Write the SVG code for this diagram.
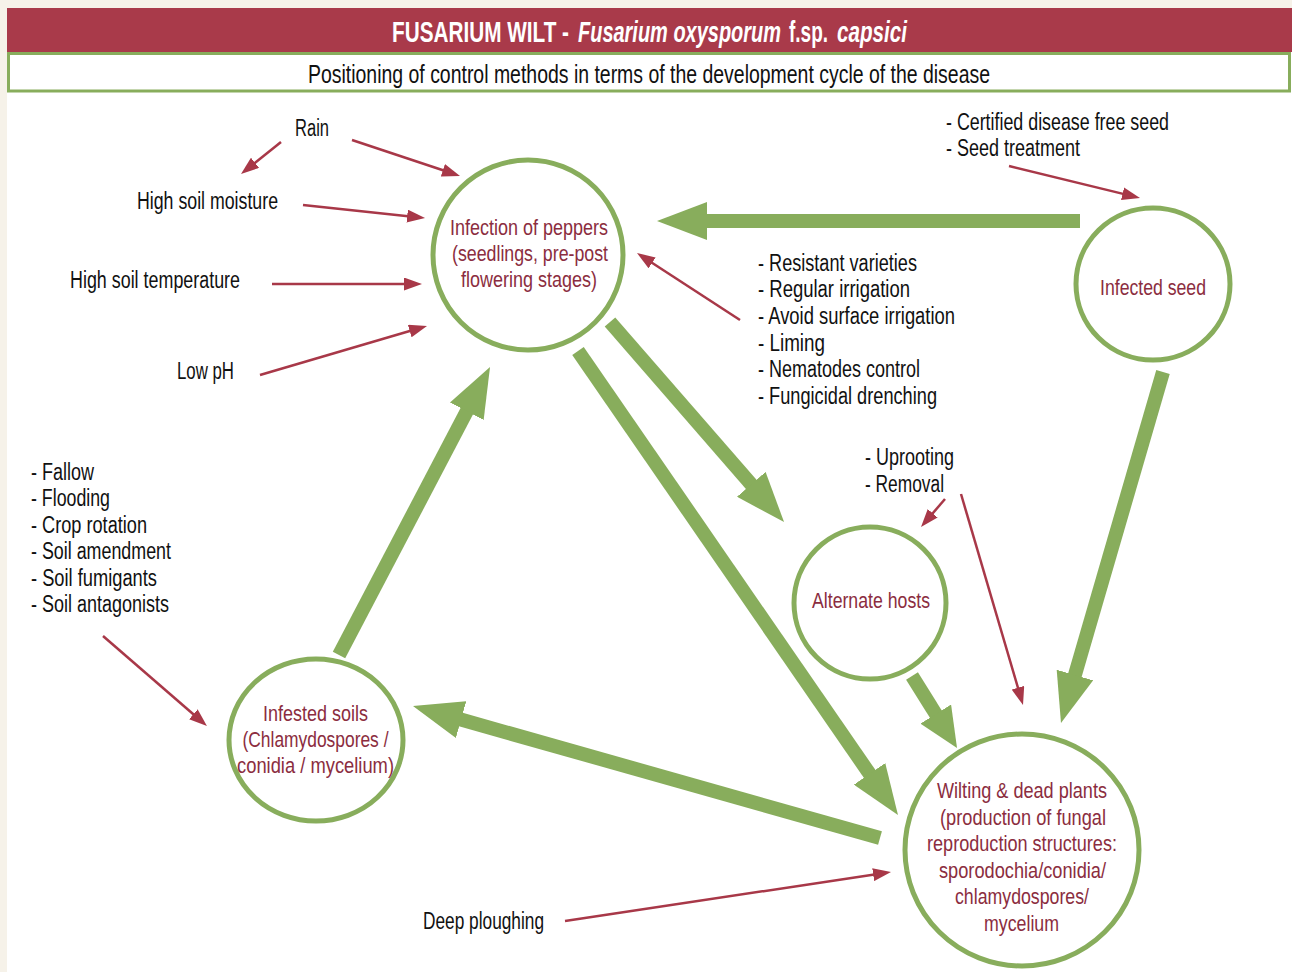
<svg xmlns="http://www.w3.org/2000/svg" width="1292" height="972" viewBox="0 0 1292 972">
<style>
text{font-family:"Liberation Sans Narrow","Liberation Sans",Arial,sans-serif;}
.lbl{font-size:23px;fill:#111;}
.node{font-size:22px;fill:#8b2d40;text-anchor:middle;}
.ttl{font-size:20px;font-weight:bold;fill:#fff;}
.it{font-style:italic;}
.ring{fill:#fff;stroke:#88ad5c;stroke-width:5;}
.g{stroke:#88ad5c;stroke-width:14;fill:none;marker-end:url(#gh);}
.gs{stroke:#88ad5c;stroke-width:14;fill:none;marker-end:url(#ghs);}
.r{stroke:#a83848;stroke-width:2.5;fill:none;marker-end:url(#rh);}
</style>
<defs>
<marker id="gh" markerUnits="userSpaceOnUse" viewBox="0 0 50 38" markerWidth="50" markerHeight="38" refX="3" refY="19" orient="auto"><path d="M0,0 L50,19 L0,38 z" fill="#88ad5c"/></marker>
<marker id="ghs" markerUnits="userSpaceOnUse" viewBox="0 0 40 36" markerWidth="40" markerHeight="36" refX="3" refY="18" orient="auto"><path d="M0,0 L40,18 L0,36 z" fill="#88ad5c"/></marker>
<marker id="rh" markerUnits="userSpaceOnUse" viewBox="0 0 18 13" markerWidth="18" markerHeight="13" refX="8" refY="6.5" orient="auto"><path d="M0,0 L18,6.5 L0,13 z" fill="#a83848"/></marker>
</defs>
<rect x="0" y="0" width="1292" height="972" fill="#f6f2e9"/>
<rect x="7" y="8" width="1285" height="964" fill="#fff"/>
<g id="title">
<rect x="7" y="8" width="1285" height="44" fill="#a93a4a"/>
<g transform="translate(0,42) scale(1,1.45)">
<text class="ttl" x="392" y="0" textLength="177" lengthAdjust="spacingAndGlyphs">FUSARIUM WILT -</text>
<text class="ttl it" x="578" y="0" textLength="203" lengthAdjust="spacingAndGlyphs">Fusarium oxysporum</text>
<text class="ttl" x="789" y="0" textLength="39" lengthAdjust="spacingAndGlyphs">f.sp.</text>
<text class="ttl it" x="837" y="0" textLength="70" lengthAdjust="spacingAndGlyphs">capsici</text>
</g>
</g>
<g id="subtitle">
<rect x="8.5" y="53.5" width="1281" height="37.5" fill="#fff" stroke="#88ad5c" stroke-width="3"/>
<text x="649" y="83" text-anchor="middle" font-size="26" fill="#111" textLength="682" lengthAdjust="spacingAndGlyphs">Positioning of control methods in terms of the development cycle of the disease</text>
</g>
<g id="connectors">
<line class="g" x1="1080" y1="221" x2="704" y2="221"/>
<line class="g" x1="1163" y1="372" x2="1074.1" y2="677.9"/>
<line class="g" x1="610" y1="322" x2="753.2" y2="486.6"/>
<line class="g" x1="578" y1="351" x2="871.3" y2="776.3"/>
<line class="gs" x1="912" y1="676" x2="937.4" y2="716.6"/>
<line class="g" x1="880" y1="838" x2="458.2" y2="718.8"/>
<line class="g" x1="339" y1="655" x2="468.2" y2="408.6"/>
<line class="r" x1="281" y1="142" x2="248.8" y2="167.8"/>
<line class="r" x1="352" y1="140" x2="450.5" y2="172.8"/>
<line class="r" x1="303" y1="205" x2="415.1" y2="216.9"/>
<line class="r" x1="272" y1="284" x2="412" y2="284"/>
<line class="r" x1="260" y1="375" x2="417.4" y2="328.8"/>
<line class="r" x1="740" y1="320" x2="645.4" y2="258.5"/>
<line class="r" x1="1009" y1="166" x2="1130.3" y2="195.6"/>
<line class="r" x1="945" y1="499" x2="927.5" y2="519.4"/>
<line class="r" x1="961" y1="494" x2="1020.2" y2="695.4"/>
<line class="r" x1="103" y1="636" x2="199.4" y2="719.5"/>
<line class="r" x1="565" y1="921" x2="881.1" y2="873.5"/>
</g>
<g id="infection">
<circle class="ring" cx="528" cy="255" r="95"/>
<text class="node" x="529" y="235" textLength="158" lengthAdjust="spacingAndGlyphs">Infection of peppers</text>
<text class="node" x="530" y="261" textLength="156" lengthAdjust="spacingAndGlyphs">(seedlings, pre-post</text>
<text class="node" x="529" y="287" textLength="136" lengthAdjust="spacingAndGlyphs">flowering stages)</text>
</g>
<g id="seed">
<ellipse class="ring" cx="1153" cy="284" rx="77" ry="76"/>
<text class="node" x="1153" y="295" textLength="106" lengthAdjust="spacingAndGlyphs">Infected seed</text>
</g>
<g id="hosts">
<circle class="ring" cx="870" cy="603" r="76"/>
<text class="node" x="871" y="608" textLength="118" lengthAdjust="spacingAndGlyphs">Alternate hosts</text>
</g>
<g id="soils">
<ellipse class="ring" cx="316" cy="740" rx="87" ry="81"/>
<text class="node" x="315.5" y="721" textLength="105" lengthAdjust="spacingAndGlyphs">Infested soils</text>
<text class="node" x="315.5" y="747" textLength="146" lengthAdjust="spacingAndGlyphs">(Chlamydospores /</text>
<text class="node" x="315.5" y="773" textLength="157" lengthAdjust="spacingAndGlyphs">conidia / mycelium)</text>
</g>
<g id="wilting">
<ellipse class="ring" cx="1022" cy="850" rx="117" ry="116"/>
<text class="node" x="1022" y="798" textLength="170" lengthAdjust="spacingAndGlyphs">Wilting &amp; dead plants</text>
<text class="node" x="1023" y="825" textLength="166" lengthAdjust="spacingAndGlyphs">(production of fungal</text>
<text class="node" x="1022" y="851" textLength="190" lengthAdjust="spacingAndGlyphs">reproduction structures:</text>
<text class="node" x="1022.5" y="878" textLength="167" lengthAdjust="spacingAndGlyphs">sporodochia/conidia/</text>
<text class="node" x="1022" y="904" textLength="134" lengthAdjust="spacingAndGlyphs">chlamydospores/</text>
<text class="node" x="1021.5" y="931" textLength="75" lengthAdjust="spacingAndGlyphs">mycelium</text>
</g>
<g id="labels">
<text class="lbl" x="295" y="136" textLength="34" lengthAdjust="spacingAndGlyphs">Rain</text>
<text class="lbl" x="137" y="209" textLength="141" lengthAdjust="spacingAndGlyphs">High soil moisture</text>
<text class="lbl" x="70" y="288" textLength="170" lengthAdjust="spacingAndGlyphs">High soil temperature</text>
<text class="lbl" x="177" y="379" textLength="57" lengthAdjust="spacingAndGlyphs">Low pH</text>
<text class="lbl" x="946" y="130" textLength="223" lengthAdjust="spacingAndGlyphs">- Certified disease free seed</text>
<text class="lbl" x="946" y="156" textLength="134" lengthAdjust="spacingAndGlyphs">- Seed treatment</text>
<text class="lbl" x="758" y="271" textLength="159" lengthAdjust="spacingAndGlyphs">- Resistant varieties</text>
<text class="lbl" x="758" y="297" textLength="152" lengthAdjust="spacingAndGlyphs">- Regular irrigation</text>
<text class="lbl" x="758" y="324" textLength="197" lengthAdjust="spacingAndGlyphs">- Avoid surface irrigation</text>
<text class="lbl" x="758" y="351" textLength="67" lengthAdjust="spacingAndGlyphs">- Liming</text>
<text class="lbl" x="758" y="377" textLength="162" lengthAdjust="spacingAndGlyphs">- Nematodes control</text>
<text class="lbl" x="758" y="404" textLength="179" lengthAdjust="spacingAndGlyphs">- Fungicidal drenching</text>
<text class="lbl" x="865" y="465" textLength="89" lengthAdjust="spacingAndGlyphs">- Uprooting</text>
<text class="lbl" x="865" y="492" textLength="79" lengthAdjust="spacingAndGlyphs">- Removal</text>
<text class="lbl" x="31" y="480" textLength="63" lengthAdjust="spacingAndGlyphs">- Fallow</text>
<text class="lbl" x="31" y="506" textLength="79" lengthAdjust="spacingAndGlyphs">- Flooding</text>
<text class="lbl" x="31" y="533" textLength="116" lengthAdjust="spacingAndGlyphs">- Crop rotation</text>
<text class="lbl" x="31" y="559" textLength="140" lengthAdjust="spacingAndGlyphs">- Soil amendment</text>
<text class="lbl" x="31" y="586" textLength="126" lengthAdjust="spacingAndGlyphs">- Soil fumigants</text>
<text class="lbl" x="31" y="612" textLength="138" lengthAdjust="spacingAndGlyphs">- Soil antagonists</text>
<text class="lbl" x="423" y="929" textLength="121" lengthAdjust="spacingAndGlyphs">Deep ploughing</text>
</g>
</svg>
